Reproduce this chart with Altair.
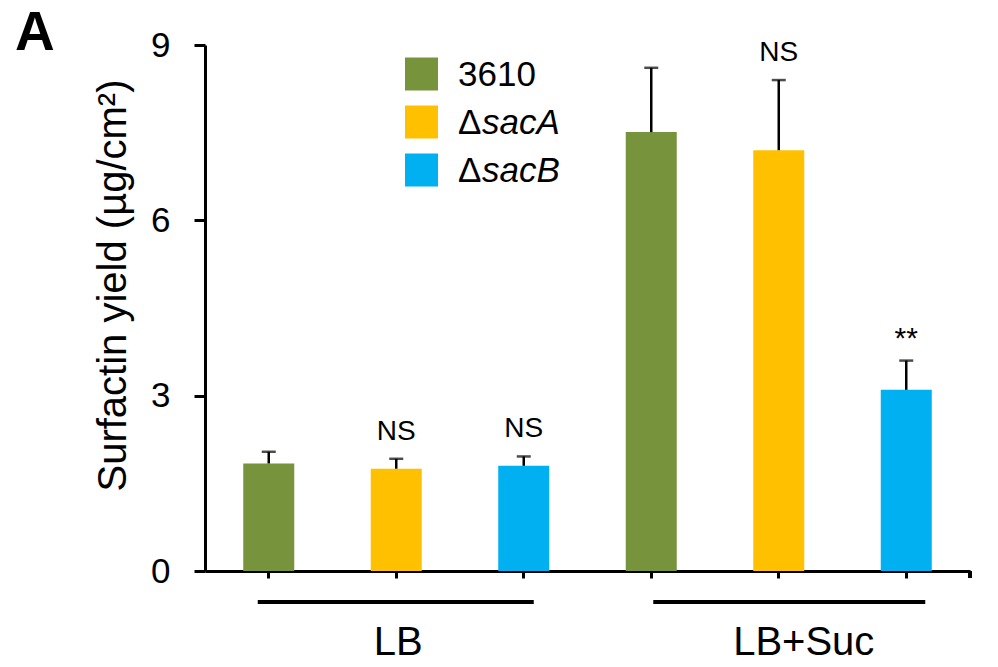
import altair as alt
import pandas as pd

# Surfactin yield per strain and medium
groups = ["LB", "LB", "LB", "LB+Suc", "LB+Suc", "LB+Suc"]
strains = ["3610", "ΔsacA", "ΔsacB", "3610", "ΔsacA", "ΔsacB"]
means = [1.84, 1.75, 1.80, 7.51, 7.20, 3.10]
errors = [0.20, 0.17, 0.16, 1.10, 1.20, 0.50]
marks = ["", "NS", "NS", "", "NS", "**"]

legend_strains = ["3610", "ΔsacA", "ΔsacB"]
legend_plain = ["3610", "Δ", "Δ"]
legend_italic = ["", "sacA", "sacB"]
colors = ["#77933C", "#FFC000", "#00B0F0"]

FONT = "Liberation Sans"

keys = [f"{g}|{s}" for g, s in zip(groups, strains)]
df = pd.DataFrame({
    "key": keys, "group": groups, "strain": strains,
    "mean": means, "err": errors, "mark": marks,
})
df["top"] = df["mean"] + df["err"]

x_scale = alt.Scale(domain=keys, paddingInner=0.6, paddingOuter=0.3)
x_enc = alt.X(
    "key:N", scale=x_scale,
    axis=alt.Axis(labels=False, title=None, tickSize=7, tickWidth=3,
                  tickColor="black", domainWidth=3, domainColor="black"),
)
y_scale = alt.Scale(domain=[0, 9], nice=False)
y_axis = alt.Axis(
    values=[0, 3, 6, 9], format="d", tickSize=11, tickWidth=3,
    tickColor="black", domainWidth=3, domainColor="black",
    labelFont=FONT, labelFontSize=35, labelColor="black", labelPadding=24,
    title="Surfactin yield (µg/cm²)", titleFont=FONT, titleFontSize=40,
    titleFontWeight="normal", titleColor="black", titleX=-72, titleY=240,
    titleBaseline="bottom", titleAlign="center", titleAngle=-90,
)

base = alt.Chart(df)

bars = base.mark_bar().encode(
    x=x_enc,
    y=alt.Y("mean:Q", scale=y_scale, axis=y_axis),
    color=alt.Color("strain:N", scale=alt.Scale(domain=legend_strains, range=colors), legend=None),
)

err_rule = base.mark_rule(color="black", strokeWidth=2.5).encode(
    x=alt.X("key:N", scale=x_scale), y="mean:Q", y2="top:Q"
)
err_cap = base.mark_tick(color="black", size=14, thickness=2.5).encode(
    x=alt.X("key:N", scale=x_scale), y="top:Q"
)

ns_text = base.transform_filter("datum.mark == 'NS'").mark_text(
    font=FONT, fontSize=28, color="black", baseline="alphabetic", dy=-19
).encode(x=alt.X("key:N", scale=x_scale), y="top:Q", text="mark:N")

star_text = base.transform_filter("datum.mark == '**'").mark_text(
    font=FONT, fontSize=30, color="black", baseline="alphabetic", dy=-13
).encode(x=alt.X("key:N", scale=x_scale), y="top:Q", text="mark:N")

layers = [bars, err_rule, err_cap, ns_text, star_text]

# closing tick at the right end of the x axis
layers.append(
    alt.Chart(df).mark_rule(color="black", strokeWidth=3).encode(
        x=alt.value(765), y=alt.value(526), y2=alt.value(533)
    )
)

# group brackets and labels under the axis
group_spans = {"LB": (-11, 10, 2), "LB+Suc": (2, 19, 25)}
for g, (off1, off2, dx) in group_spans.items():
    gk = [k for k, gg in zip(keys, groups) if gg == g]
    span = pd.DataFrame({"a": [gk[0]], "b": [gk[-1]], "mid": [gk[1]], "label": [g]})
    layers.append(
        alt.Chart(span).mark_rule(color="black", strokeWidth=4, xOffset=off1, x2Offset=off2).encode(
            x=alt.X("a:N", scale=x_scale), x2="b:N", y=alt.value(557)
        )
    )
    layers.append(
        alt.Chart(span).mark_text(font=FONT, fontSize=40, color="black",
                                  baseline="alphabetic", dx=dx).encode(
            x=alt.X("mid:N", scale=x_scale), y=alt.value(610), text="label:N"
        )
    )

# legend drawn as swatches plus mixed upright/italic labels
for i, (s, p, it, c) in enumerate(zip(legend_strains, legend_plain, legend_italic, colors)):
    row = pd.DataFrame({"strain": [s], "plain": [p], "ital": [it]})
    yc = 29 + 48 * i
    layers.append(
        alt.Chart(row).mark_square(size=33 * 33, color=c, opacity=1, filled=True).encode(
            x=alt.value(216.5), y=alt.value(yc)
        )
    )
    layers.append(
        alt.Chart(row).mark_text(font=FONT, fontSize=35, color="black", align="left",
                                 baseline="middle").encode(
            x=alt.value(253), y=alt.value(yc + 1), text="plain:N"
        )
    )
    if it:
        layers.append(
            alt.Chart(row).mark_text(font=FONT, fontSize=35, fontStyle="italic", color="black",
                                     align="left", baseline="middle").encode(
                x=alt.value(277), y=alt.value(yc + 1), text="ital:N"
            )
        )

# panel letter
layers.append(
    alt.Chart(pd.DataFrame({"t": ["A"]})).mark_text(
        font=FONT, fontSize=55, fontWeight="bold", color="black", align="left", baseline="alphabetic"
    ).encode(x=alt.value(-190), y=alt.value(5), text="t:N")
)

chart = alt.layer(*layers).properties(
    width=765, height=526,
    autosize=alt.AutoSizeParams(type="none"),
    padding={"left": 205, "top": 45, "right": 28, "bottom": 96},
).configure_view(stroke=None).configure_axis(grid=False)

chart.save("out.html", embed_options={"renderer": "svg", "actions": False})
